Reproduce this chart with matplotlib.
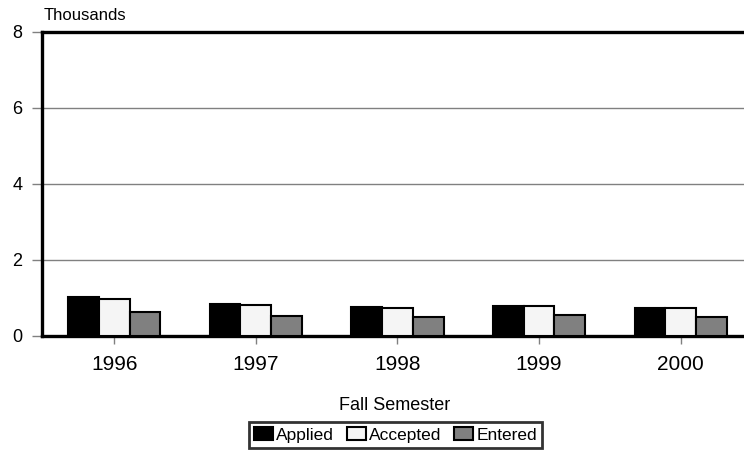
import matplotlib
matplotlib.use("Agg")
import matplotlib.pyplot as plt
import numpy as np

plt.rcParams['font.family'] = ['Liberation Sans', 'DejaVu Sans']

years = ["1996", "1997", "1998", "1999", "2000"]
applied = [1.02, 0.84, 0.76, 0.78, 0.74]
accepted = [0.98, 0.81, 0.74, 0.78, 0.73]
entered = [0.62, 0.53, 0.51, 0.54, 0.49]

fig = plt.figure(figsize=(7.44, 4.53), dpi=100)
ax = fig.add_axes([42 / 744, 1 - 336 / 453, 1 - 42 / 744 + 0.01, (336 - 32) / 453])

x = np.arange(len(years))
w = 0.217
ax.bar(x - w, applied, w, color="black", edgecolor="black", linewidth=1.5, label="Applied", zorder=3)
ax.bar(x, accepted, w, color="#f5f5f5", edgecolor="black", linewidth=1.5, label="Accepted", zorder=3)
ax.bar(x + w, entered, w, color="#808080", edgecolor="black", linewidth=1.5, label="Entered", zorder=3)

ax.set_xlim(-0.51, 4.5)
ax.set_ylim(0, 8)
ax.set_yticks([0, 2, 4, 6, 8])
ax.set_xticks(x)
ax.set_xticklabels(years)
ax.yaxis.grid(True, color="#808080", linewidth=1)
ax.set_axisbelow(True)

for s in ["left", "bottom", "top"]:
    ax.spines[s].set_linewidth(2.4)
    ax.spines[s].set_color("black")
ax.spines["right"].set_visible(False)

ax.tick_params(axis="y", length=7, width=1, color="#808080", labelsize=13, pad=7)
ax.tick_params(axis="x", length=6, width=1, color="#808080", labelsize=15, pad=8)

fig.text(44 / 744, 1 - 15 / 453, "Thousands", fontsize=12, va="center", ha="left")
fig.text(395 / 744, 1 - 405 / 453, "Fall Semester", fontsize=13, ha="center", va="center")

leg = fig.legend(loc="center", bbox_to_anchor=(395.5 / 744, 1 - 435 / 453), ncol=3,
                 fontsize=12.5, frameon=True, fancybox=False, handlelength=1.1,
                 handleheight=0.75, handletextpad=0.17, columnspacing=0.75,
                 borderpad=0.3, borderaxespad=0)
leg.get_frame().set_edgecolor("black")
leg.get_frame().set_linewidth(2)

plt.savefig("out.png", dpi=100)
